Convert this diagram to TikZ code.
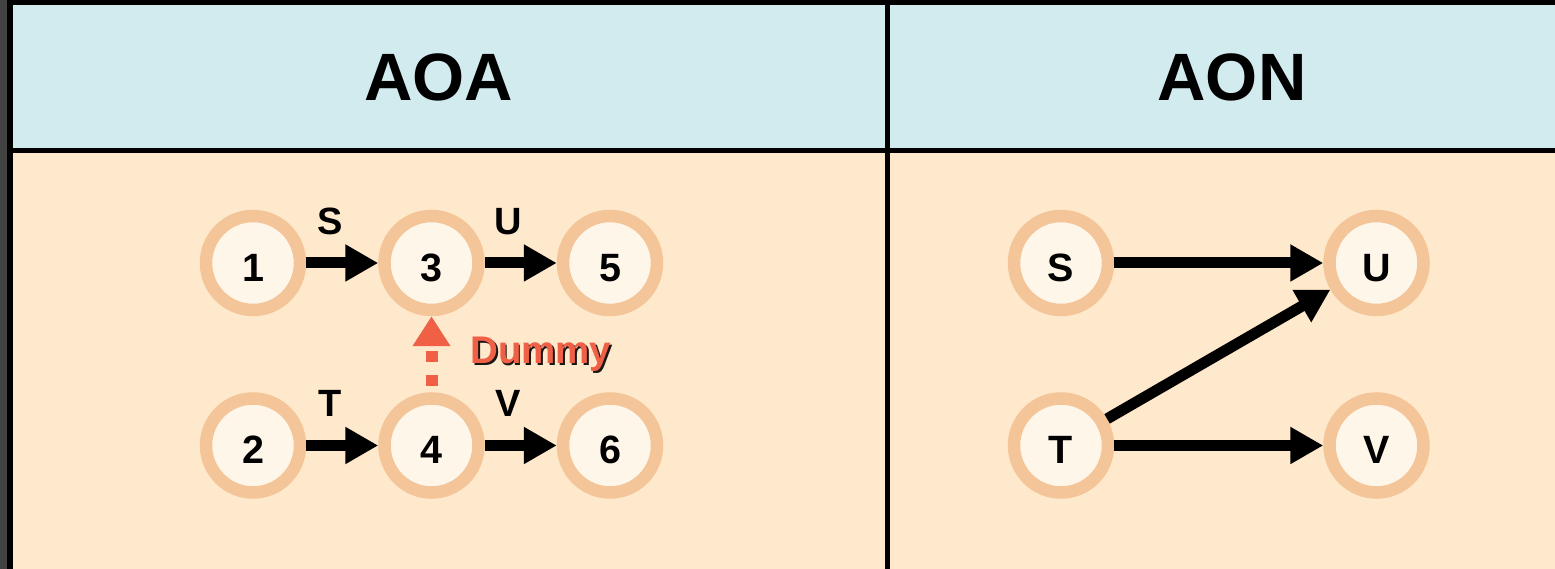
\documentclass[tikz,border=0pt]{standalone}
\usepackage{fontspec}
\setmainfont{Liberation Sans}
\usepackage{xcolor}
\usetikzlibrary{arrows.meta,positioning}
\definecolor{hdrblue}{HTML}{D2EBEF}
\definecolor{bodyorange}{HTML}{FFE9CC}
\definecolor{ringorange}{HTML}{F4C599}
\definecolor{nodefill}{HTML}{FFF6EA}
\definecolor{dummyred}{HTML}{F06046}
\definecolor{stripgray}{HTML}{424242}

\begin{document}
\begin{tikzpicture}[x=1pt,y=1pt,
  ev/.style={circle,draw=ringorange,line width=12.5pt,fill=nodefill,minimum size=94pt,inner sep=0pt,text height=37pt,text depth=0pt,font=\fontsize{39.5}{39.5}\selectfont\bfseries},
  act/.style={-{Triangle[length=33pt,width=35pt]},line width=11pt},
  lbl/.style={font=\fontsize{38}{38}\selectfont\bfseries,inner sep=0pt,above=23pt,pos=0.33},
  hdr/.style={font=\fontsize{67}{67}\selectfont\bfseries,inner sep=0pt}]
  \useasboundingbox (0,0) rectangle (1555,569);
  \fill[stripgray] (0,0) rectangle (7,569);
  \fill[black] (7,0) rectangle (1555,569);
  \fill[hdrblue] (13,421) rectangle (885,564);
  \fill[hdrblue] (890,421) rectangle (1555,564);
  \fill[bodyorange] (13,0) rectangle (885,415.5);
  \fill[bodyorange] (890,0) rectangle (1555,415.5);
  \node[hdr] (aoa) at (438.5,492) {AOA};
  \node[hdr] (aon) at (1232,492) {AON};

  \node[ev] (n1) at (253,306) {1};
  \node[ev,right=72pt of n1] (n3) {3};
  \node[ev,right=72pt of n3] (n5) {5};
  \node[ev,below=76pt of n1] (n2) {2};
  \node[ev,right=72pt of n2] (n4) {4};
  \node[ev,right=72pt of n4] (n6) {6};
  \draw[act] (n1) -- node[lbl]{S} (n3);
  \draw[act] (n3) -- node[lbl]{U} (n5);
  \draw[act] (n2) -- node[lbl]{T} (n4);
  \draw[act] (n4) -- node[lbl]{V} (n6);
  \draw[dummyred,-{Triangle[length=30pt,width=36pt]},line width=12pt,dash pattern=on 11pt off 13pt,dash phase=18pt] (n4) -- (n3);
  \node[anchor=base west,inner sep=0pt,font=\fontsize{38.5}{38.5}\selectfont\bfseries,text=black,opacity=0.9] (dshadow) at (471.8,203.2) {Dummy};
  \node[anchor=base west,inner sep=0pt,font=\fontsize{38.5}{38.5}\selectfont\bfseries,text=dummyred] (dummy) at (470,205) {Dummy};

  \node[ev] (s) at (1061,306) {S};
  \node[ev,right=209pt of s] (u) {U};
  \node[ev,below=76pt of s] (t) {T};
  \node[ev,right=209pt of t] (v) {V};
  \draw[act] (s) -- (u);
  \draw[act] (t) -- (u);
  \draw[act] (t) -- (v);
\end{tikzpicture}
\end{document}
